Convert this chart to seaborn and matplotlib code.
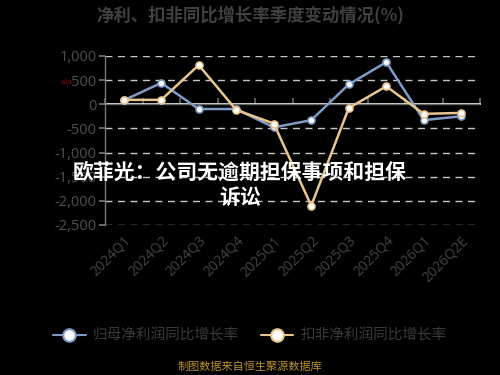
import matplotlib
matplotlib.use("Agg")
import matplotlib.pyplot as plt
import seaborn as sns
import pandas as pd
from matplotlib.lines import Line2D

quarters = ["2024Q1", "2024Q2", "2024Q3", "2024Q4", "2025Q1", "2025Q2",
            "2025Q3", "2025Q4", "2026Q1", "2026Q2E"]
net_profit_yoy = [80, 440, -100, -100, -480, -330, 410, 870, -330, -250]
deducted_yoy = [90, 90, 810, -120, -400, -2100, -80, 370, -200, -180]
series_names = ["归母净利润同比增长率", "扣非净利润同比增长率"]
yticks = [1000, 500, 0, -500, -1000, -1500, -2000, -2500]

df = pd.DataFrame({
    "quarter": quarters * 2,
    "value": net_profit_yoy + deducted_yoy,
    "series": [series_names[0]] * len(quarters) + [series_names[1]] * len(quarters),
})

sns.set_theme(style="dark")
plt.rcParams["font.family"] = ["Open Sans", "Noto Sans CJK SC", "DejaVu Sans"]
cjk = ["Noto Sans CJK SC", "DejaVu Sans"]

colors = {series_names[0]: "#7f9cc6", series_names[1]: "#e8c690"}

fig = plt.figure(figsize=(5, 3.75), dpi=100, facecolor="black")
ax = fig.add_axes([0.21, 0.40, 0.75, 0.451])
ax.set_facecolor("black")

sns.lineplot(data=df, x="quarter", y="value", hue="series", palette=colors,
             marker="o", markersize=5, markerfacecolor="white",
             markeredgewidth=1.2, linewidth=1.8, sort=False, legend=False, ax=ax)
for ln, name in zip(ax.lines, series_names):
    ln.set_markeredgecolor(colors[name])

ax.set_ylim(-2500, 1000)
ax.set_xlim(-0.5, len(quarters) - 0.5)
ax.set_yticks(yticks)
ax.set_yticklabels([f"{v:,}" for v in yticks], fontsize=10.5, color="#505050")
for v in yticks:
    if v != 0:
        ax.axhline(v, color="#c8c8c8", linestyle=(0, (5, 4)), linewidth=1.0, zorder=0)
ax.axhline(0, color="#666666", linewidth=1.0, zorder=1)

ax.set_xticks(range(len(quarters)))
ax.set_xticklabels(quarters, rotation=45, ha="right", rotation_mode="anchor",
                   fontsize=10, color="#444444")
ax.tick_params(axis="x", length=0, pad=6)
ax.tick_params(axis="y", length=4, color="#777777", direction="out", left=True, pad=2)
ax.set_xlabel("")
ax.set_ylabel("")
for s in ["top", "right", "bottom"]:
    ax.spines[s].set_visible(False)
ax.spines["left"].set_color("#777777")
ax.spines["left"].set_linewidth(1.0)

# ticks on zero line
sec = ax.secondary_xaxis(2500 / 3500)
sec.set_xticks([i - 0.5 for i in range(len(quarters) + 1)])
sec.set_xticklabels([])
sec.tick_params(length=4, color="#666666", direction="out")
sec.spines["bottom"].set_visible(False)

fig.text(0.5, 0.96, "净利、扣非同比增长率季度变动情况(%)", ha="center", va="center",
         fontsize=12.5, color="#404040", fontweight="bold", family=cjk)
fig.text(0.135, 0.78, "%", ha="center", va="center", fontsize=7, color="#8b1010",
         rotation=45, family=["DejaVu Sans"])

fig.text(0.48, 0.507, "欧菲光：公司无逾期担保事项和担保\n诉讼", ha="center", va="center",
         fontsize=15, color="white", fontweight="bold", family=cjk, linespacing=1.25)

handles = [Line2D([0], [0], color=colors[n], marker="o", markersize=9,
                  markerfacecolor="white", markeredgecolor=colors[n],
                  markeredgewidth=1.5, linewidth=1.5) for n in series_names]
leg = fig.legend(handles, series_names, loc="center", bbox_to_anchor=(0.5, 0.105),
                 ncol=2, frameon=False, prop={"family": cjk, "size": 10.5},
                 handlelength=2.2, columnspacing=1.5, handletextpad=0.5)
for t in leg.get_texts():
    t.set_color("#3a3a3a")

fig.text(0.5, 0.022, "制图数据来自恒生聚源数据库", ha="center", va="center",
         fontsize=8, color="#b8922e", family=cjk)

fig.savefig("out.png", dpi=100, facecolor="black")
